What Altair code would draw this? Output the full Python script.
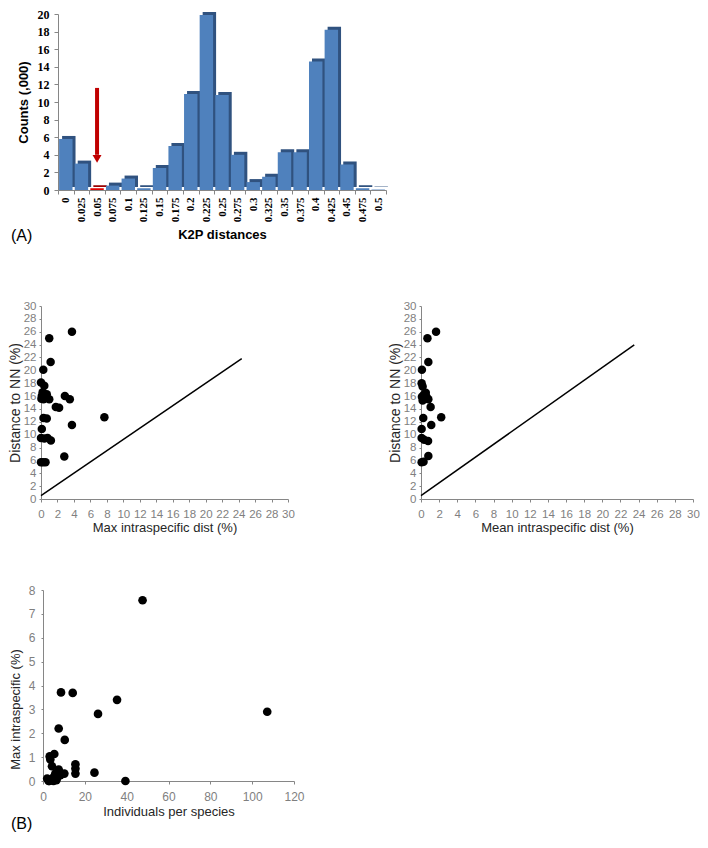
import altair as alt
import pandas as pd

# ---------------- data ----------------
k2p_bins = ["0", "0.025", "0.05", "0.075", "0.1", "0.125", "0.15", "0.175", "0.2",
            "0.225", "0.25", "0.275", "0.3", "0.325", "0.35", "0.375", "0.4",
            "0.425", "0.45", "0.475", "0.5"]
k2p_counts = [5.8, 3.0, 0.2, 0.5, 1.3, 0.2, 2.5, 5.0, 10.9, 19.9, 10.8, 4.0,
              0.9, 1.5, 4.3, 4.3, 14.6, 18.2, 2.9, 0.2, 0.05]
highlight_bin = "0.05"
arrow_start = [11.6]
arrow_end = [4.0]
arrow_head = [3.55]

max_intra = [3.76, 1.0, 1.17, 0.28, 0.0, 0.4, 0.1, 0.7, 0.3, 1.0, 2.9, 3.5, 1.8, 2.2,
             0.3, 0.7, 7.7, 3.76, 0.1, 0.0, 0.4, 0.8, 1.2, 2.83, 0.0, 0.55, 0.25,
             0.2, 0.55, 0.05]
nn_max = [26.0, 25.0, 21.3, 20.1, 18.1, 17.6, 16.0, 16.3, 15.5, 15.5, 16.0, 15.5, 14.3, 14.2,
          12.6, 12.5, 12.7, 11.5, 10.9, 9.5, 9.4, 9.5, 9.1, 6.6, 5.7, 5.7, 5.7,
          16.6, 15.9, 15.6]

mean_intra = [1.66, 0.71, 0.81, 0.1, 0.07, 0.18, 0.1, 0.53, 0.18, 0.81, 1.06, 0.25, 2.23,
              1.13, 0.07, 0.07, 0.35, 0.78, 0.81, 0.07, 0.28, 0.45, 0.3, 0.6]
nn_mean = [26.0, 25.0, 21.3, 20.1, 18.0, 17.5, 15.9, 16.5, 15.3, 15.5, 14.3, 12.6, 12.7,
           11.5, 10.9, 9.5, 9.2, 9.0, 6.7, 5.7, 5.8, 15.8, 16.2, 15.9]

line1_x = [0.0, 24.38]
line1_y = [0.52, 21.83]
line2_x = [0.0, 23.52]
line2_y = [0.52, 23.94]

individuals = [47.6, 8.6, 14.2, 35.4, 26.3, 107.2, 7.5, 10.4, 3.2, 5.4, 3.5, 4.3, 15.5,
               15.5, 24.6, 39.4, 7.5, 10.2, 5.9, 2.0, 2.7, 4.3, 6.4, 8.3, 15.5, 5.1,
               7.0, 3.0, 5.0, 6.0]
max_intra_b = [7.57, 3.71, 3.69, 3.40, 2.81, 2.90, 2.2, 1.72, 1.03, 1.13, 0.9, 0.62, 0.70,
               0.31, 0.35, 0.0, 0.48, 0.31, 0.31, 0.10, 0.0, 0.03, 0.03, 0.24, 0.52, 0.17,
               0.17, 0.0, 0.0, 0.1]

# ---------------- styles ----------------
AXIS_GRAY = "#868686"
LABEL_GRAY = "#7f7f7f"
TITLE_COLOR = "#262626"
BLUE = "#4F81BD"
BLUE_DARK = "#30527F"
RED = "#E00000"
RED_DARK = "#990000"
ARROW = "#C00000"
SANS = "Liberation Sans"

# ---------------- histogram (A) ----------------
hist_df = pd.DataFrame({"bin": k2p_bins, "count": k2p_counts})
arrow_df = pd.DataFrame({"bin": [highlight_bin], "a0": arrow_start, "a1": arrow_end,
                         "ah": arrow_head})

x_scale_h = alt.Scale(domain=k2p_bins, range=[17, 345], paddingInner=0, paddingOuter=0)
y_scale_h = alt.Scale(domain=[0, 20], nice=False)
x_axis_h = alt.Axis(title="K2P distances", labelAngle=-90, labelFont="Liberation Serif",
                    labelFontWeight="bold", labelFontSize=11, labelColor="#000000",
                    labelPadding=3, tickSize=4, tickBand="extent", tickColor=AXIS_GRAY,
                    domainColor=AXIS_GRAY, titleFont=SANS, titleFontWeight="bold",
                    titleFontSize=13, titleColor="#000000", titlePadding=7,
                    labelOverlap=False, labelFlush=False)
y_axis_h = alt.Axis(title="Counts (,000)", values=list(range(0, 21, 2)), offset=-17,
                    labelFont="Liberation Serif", labelFontWeight="bold", labelFontSize=12,
                    labelColor="#000000", labelPadding=5, tickSize=4, tickColor=AXIS_GRAY,
                    domainColor=AXIS_GRAY, grid=False, titleFont=SANS,
                    titleFontWeight="bold", titleFontSize=13, titleColor="#000000",
                    titlePadding=7, labelOverlap=False, labelFlush=False)


def hx():
    return alt.X("bin:N", scale=x_scale_h, axis=x_axis_h)


def hy(field):
    return alt.Y(f"{field}:Q", scale=y_scale_h, axis=y_axis_h)


is_hl = alt.datum.bin == highlight_bin

bars_back = alt.Chart(hist_df).mark_bar(
    width=alt.RelativeBandSize(0.86), xOffset=3, yOffset=-3
).encode(
    x=hx(), y=hy("count"),
    color=alt.condition(is_hl, alt.value(RED_DARK), alt.value(BLUE_DARK)),
)
bars_front = alt.Chart(hist_df).mark_bar(
    width=alt.RelativeBandSize(0.86)
).encode(
    x=hx(), y=hy("count"),
    color=alt.condition(is_hl, alt.value(RED), alt.value(BLUE)),
)
shaft = alt.Chart(arrow_df).mark_rule(color=ARROW, strokeWidth=4).encode(
    x=hx(), y=hy("a0"), y2="a1:Q"
)
head = alt.Chart(arrow_df).mark_point(shape="triangle-down", filled=True, size=80,
                                      color=ARROW, opacity=1).encode(
    x=hx(), y=hy("ah")
)
label_a = alt.Chart(pd.DataFrame({"t": ["(A)"]})).mark_text(
    align="left", baseline="alphabetic", fontSize=16, font=SANS, color="#000000"
).encode(text="t:N", x=alt.value(-30), y=alt.value(227))

hist = alt.layer(bars_back, bars_front, shaft, head, label_a).properties(width=345, height=176)

filler = alt.Chart(pd.DataFrame({"t": [""]})).mark_text().encode(
    text="t:N").properties(width=10, height=201)


# ---------------- scatter plots (B) ----------------
def sc_axis(title, values, **kw):
    base = dict(title=title, values=values, domainColor=AXIS_GRAY, tickColor=AXIS_GRAY,
                labelColor=LABEL_GRAY, labelFont=SANS, labelFontSize=11.5, grid=False,
                titleFont=SANS, titleFontWeight="normal", titleColor=TITLE_COLOR,
                labelOverlap=False, labelFlush=False)
    base.update(kw)
    return alt.Axis(**base)


def nn_scatter(xs, ys, lx, ly, xtitle, w, h):
    pts = pd.DataFrame({"x": xs, "y": ys})
    ln = pd.DataFrame({"x": lx, "y": ly})
    xs_ = alt.Scale(domain=[0, 30], nice=False)
    ys_ = alt.Scale(domain=[0, 30], nice=False)
    xa = sc_axis(xtitle, list(range(0, 31, 2)), tickSize=3, labelPadding=6,
                 titleFontSize=13, titlePadding=2)
    ya = sc_axis("Distance to NN (%)", list(range(0, 31, 2)), tickSize=2, labelPadding=3,
                 titleFontSize=14, titlePadding=1)
    p = alt.Chart(pts).mark_circle(size=72, color="#000000", opacity=1).encode(
        x=alt.X("x:Q", scale=xs_, axis=xa), y=alt.Y("y:Q", scale=ys_, axis=ya))
    l = alt.Chart(ln).mark_line(color="#000000", strokeWidth=1.5).encode(
        x=alt.X("x:Q", scale=xs_, axis=xa), y=alt.Y("y:Q", scale=ys_, axis=ya))
    return alt.layer(l, p).properties(width=w, height=h)


sc1 = nn_scatter(max_intra, nn_max, line1_x, line1_y, "Max intraspecific dist (%)", 247, 193)
sc2 = nn_scatter(mean_intra, nn_mean, line2_x, line2_y, "Mean intraspecific dist (%)", 272, 193)

sc3_df = pd.DataFrame({"x": individuals, "y": max_intra_b})
sc3_x = alt.Scale(domain=[0, 120], range=[2, 253], nice=False)
sc3_y = alt.Scale(domain=[0, 8], nice=False)
sc3_pts = alt.Chart(sc3_df).mark_circle(size=75, color="#000000", opacity=1).encode(
    x=alt.X("x:Q", scale=sc3_x,
            axis=sc_axis("Individuals per species", list(range(0, 121, 20)), tickSize=3,
                         labelFontSize=12, labelPadding=7, titleFontSize=13,
                         titlePadding=3)),
    y=alt.Y("y:Q", scale=sc3_y,
            axis=sc_axis("Max intraspecific (%)", list(range(0, 9)), tickSize=2, offset=-2,
                         labelFontSize=12, labelPadding=6, titleFontSize=13, titleX=-21,
                         titleY=119)),
)
label_b = alt.Chart(pd.DataFrame({"t": ["(B)"]})).mark_text(
    align="left", baseline="alphabetic", fontSize=16, font=SANS, color="#000000"
).encode(text="t:N", x=alt.value(-30), y=alt.value(239))
sc3 = alt.layer(sc3_pts, label_b).properties(width=253, height=191)

chart = alt.concat(
    hist, filler, sc1, sc2, sc3,
    columns=2, spacing={"row": 91, "column": 35}, bounds="flush", align="each",
    padding=0,
).configure_view(stroke=None)

chart.save("out.html", embed_options={"renderer": "svg", "actions": False})
